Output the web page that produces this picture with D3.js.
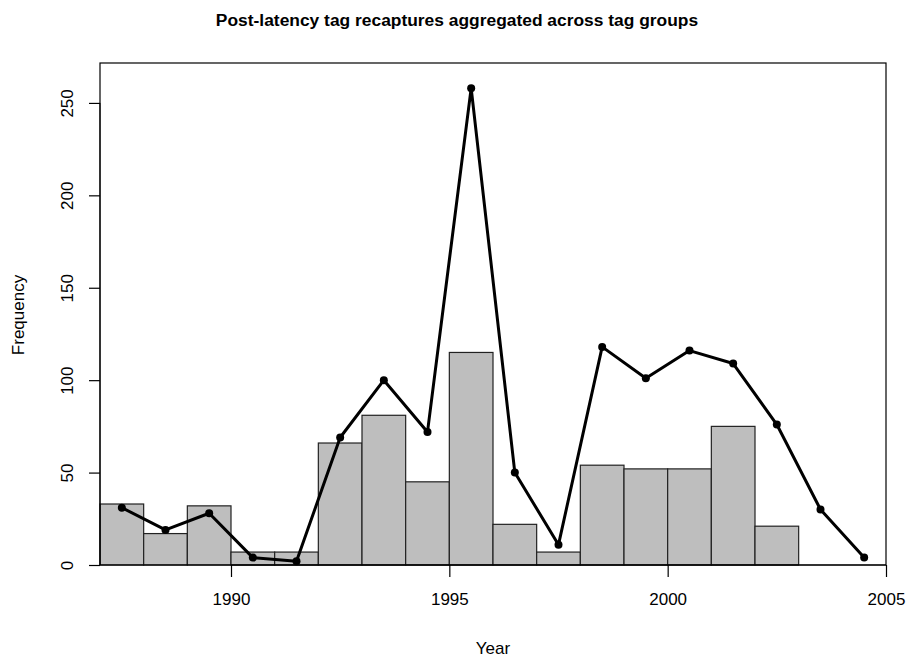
<!DOCTYPE html>
<html><head><meta charset="utf-8">
<script src="https://cdn.jsdelivr.net/npm/d3@7"></script>
<style>body{margin:0;background:#fff;} svg{display:block;}</style>
</head><body>
<svg id="chart" width="911" height="662"></svg>
<script>
const barYears = [1987,1988,1989,1990,1991,1992,1993,1994,1995,1996,1997,1998,1999,2000,2001,2002];
const barValues = [33,17,32,7,7,66,81,45,115,22,7,54,52,52,75,21];
const lineYears = [1987.5,1988.5,1989.5,1990.5,1991.5,1992.5,1993.5,1994.5,1995.5,1996.5,1997.5,1998.5,1999.5,2000.5,2001.5,2002.5,2003.5,2004.5];
const lineValues = [31,19,28,4,2,69,100,72,258,50,11,118,101,116,109,76,30,4];
const xTicks = [1990,1995,2000,2005];
const yTicks = [0,50,100,150,200,250];

const svg = d3.select("#chart");
const L=100, R=886, T=63, B=565;
const x = d3.scaleLinear().domain([1987,2005]).range([L,R]);
const y = d3.scaleLinear().domain([0,271.6]).range([B,T]);
const font = "Liberation Sans, Arial, sans-serif";

svg.append("g").selectAll("rect").data(barYears).join("rect")
  .attr("x", d=>x(d)).attr("width", d=>x(d+1)-x(d))
  .attr("y", (d,i)=>y(barValues[i])).attr("height", (d,i)=>y(0)-y(barValues[i]))
  .attr("fill","#bebebe").attr("stroke","#222").attr("stroke-width",1.2);

const line = d3.line().x((d,i)=>x(lineYears[i])).y(d=>y(d));
svg.append("path").datum(lineValues).attr("d", line)
  .attr("fill","none").attr("stroke","#000").attr("stroke-width",3).attr("stroke-linejoin","round");
svg.append("g").selectAll("circle").data(lineValues).join("circle")
  .attr("cx",(d,i)=>x(lineYears[i])).attr("cy",d=>y(d)).attr("r",4).attr("fill","#000");

// box
svg.append("rect").attr("x",L).attr("y",T).attr("width",R-L).attr("height",B-T)
  .attr("fill","none").attr("stroke","#000").attr("stroke-width",1.2);

const xa = svg.append("g").attr("transform",`translate(0,${B})`)
  .call(d3.axisBottom(x).tickValues(xTicks).tickFormat(d3.format("d")).tickSize(12).tickPadding(16));
xa.select(".domain").attr("d",`M${x(1990)},0H${x(2005)}`);
xa.selectAll("text").attr("font-family",font).attr("font-size",17).attr("fill","#000");
xa.selectAll("line").attr("stroke-width",1.2);

const ya = svg.append("g").attr("transform",`translate(${L},0)`)
  .call(d3.axisLeft(y).tickValues(yTicks).tickSize(11));
ya.select(".domain").attr("d",`M0,${y(0)}V${y(250)}`);
ya.selectAll("line").attr("stroke-width",1.2);
ya.selectAll("text").remove();
ya.selectAll(".tick").append("text")
  .attr("transform","translate(-33,0) rotate(-90)")
  .attr("text-anchor","middle").attr("dy","0.35em")
  .attr("font-family",font).attr("font-size",17).attr("fill","#000")
  .text(d=>d);

svg.append("text").attr("x",457).attr("y",26).attr("text-anchor","middle")
  .attr("font-family",font).attr("font-weight","bold").attr("font-size",17.4)
  .text("Post-latency tag recaptures aggregated across tag groups");
svg.append("text").attr("x",493).attr("y",654).attr("text-anchor","middle")
  .attr("font-family",font).attr("font-size",17).text("Year");
svg.append("text").attr("transform","translate(24,315) rotate(-90)").attr("text-anchor","middle")
  .attr("font-family",font).attr("font-size",17).text("Frequency");
</script>
</body></html>
